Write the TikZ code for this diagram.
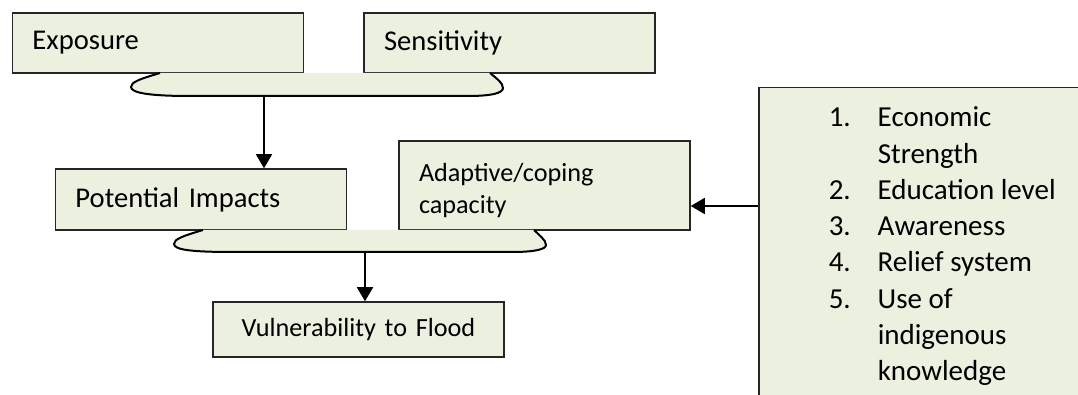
\documentclass[tikz,border=0pt]{standalone}
\usepackage{fontspec}
\setmainfont{Carlito}
\usepackage{tikz}
\usetikzlibrary{arrows.meta, positioning}
\definecolor{boxbg}{RGB}{235,241,222}

\begin{document}
\begin{tikzpicture}[x=0.5pt, y=-0.5pt,
  box/.style={rectangle, draw=black!85, line width=0.75pt, fill=boxbg, minimum width=145.5pt, inner xsep=10pt, text width=125.5pt, align=left, font=\fontsize{14.3pt}{17pt}\selectfont},
  smallbox/.style={box, font=\fontsize{13.1pt}{16pt}\selectfont},
  listbox/.style={rectangle, draw=black!85, line width=0.75pt, fill=boxbg, anchor=north west, inner xsep=35pt, inner ysep=6.8pt, text depth=160pt, font=\fontsize{14.5pt}{18.15pt}\selectfont},
  brace/.style={draw=black, line width=1pt},
  arr/.style={-{Triangle[length=7pt, width=8pt]}, line width=0.9pt}
]
\useasboundingbox (0,0) rectangle (1078,395);
\clip (0,0) rectangle (1078,395);

% first row
\node[box, minimum height=30pt] (exp) at (158,43) {Exposure};
\node[box, minimum height=30pt] (sen) at (509.5,43) {Sensitivity};

% bracket under exposure and sensitivity
\fill[boxbg] (160,73) .. controls (140,79) and (131,82) .. (131,87) .. controls (131,93) and (150,96) .. (190,96) -- (468,96) .. controls (492,96) and (503,93) .. (503,88) .. controls (503,83) and (496,78) .. (490,73) -- cycle;
\draw[brace] (160,73) .. controls (140,79) and (131,82) .. (131,87) .. controls (131,93) and (150,96) .. (190,96) -- (468,96) .. controls (492,96) and (503,93) .. (503,88) .. controls (503,83) and (496,78) .. (490,73);
\coordinate (j1) at (264,96);

% second row
\node[box, minimum height=30.5pt] (pot) at (201,199.5) {Potential Impacts};
\node[smallbox, minimum height=44.5pt, text depth=15pt] (ada) at (544.5,185.5) {\begin{tabular}[t]{@{}l@{}}Adaptive/coping\\capacity\end{tabular}};

% bracket under impacts and capacity
\fill[boxbg] (203,230) .. controls (183,236) and (174,239) .. (174,244) .. controls (174,250) and (193,252) .. (233,252) -- (512,252) .. controls (536,252) and (546,249) .. (546,245) .. controls (546,240) and (539,235) .. (534,230) -- cycle;
\draw[brace] (203,230) .. controls (183,236) and (174,239) .. (174,244) .. controls (174,250) and (193,252) .. (233,252) -- (512,252) .. controls (536,252) and (546,249) .. (546,245) .. controls (546,240) and (539,235) .. (534,230);
\coordinate (j2) at (365,252);

% result
\node[smallbox, minimum height=27.5pt, align=center] (vul) at (358.5,329.5) {Vulnerability to Flood};

% factors of capacity
\node[listbox] (fac) at (758,87) {\begin{tabular}[t]{@{}p{24.5pt}@{}l@{}}
1. & Economic\\
   & Strength\\
2. & Education level\\
3. & Awareness\\
4. & Relief system\\
5. & Use of\\
   & indigenous\\
   & knowledge
\end{tabular}};
\coordinate (a3) at (758,206);

\draw[arr] (j1) -- (j1 |- pot.north);
\draw[arr] (j2) -- (j2 |- vul.north);
\draw[arr] (a3) -- (a3 -| ada.east);
\end{tikzpicture}
\end{document}
